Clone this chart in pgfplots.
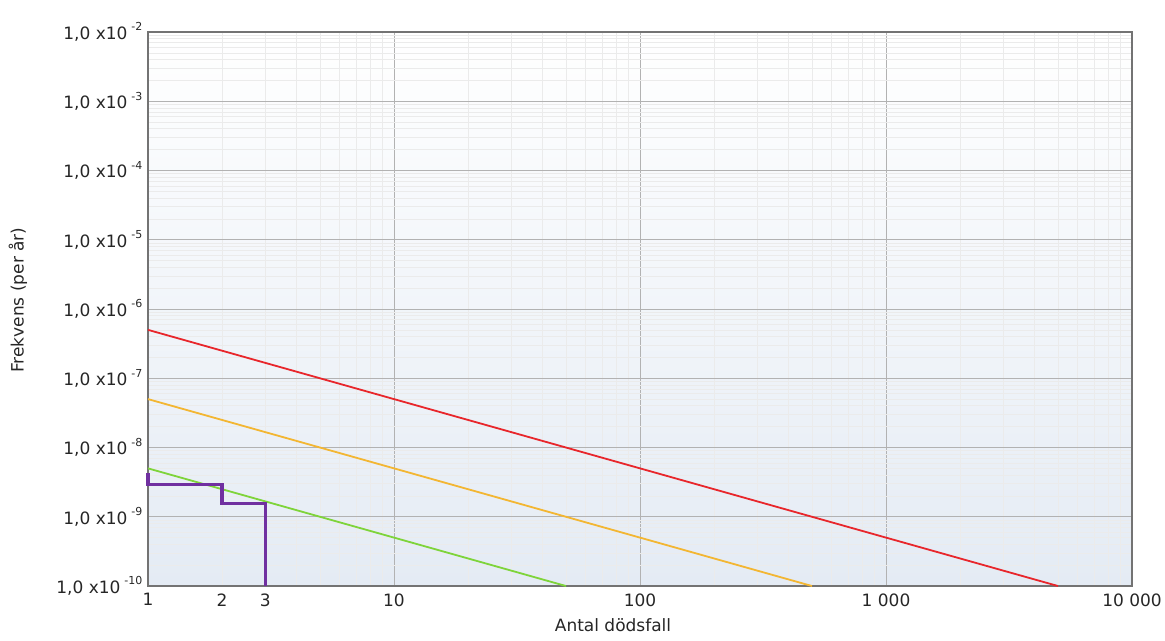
\documentclass[border=0pt]{standalone}
\usepackage{fontspec}
\setmainfont{DejaVu Sans}
\usepackage{pgfplots}
\pgfplotsset{compat=1.18}
\definecolor{cred}{HTML}{E8262B}
\definecolor{corange}{HTML}{F3B632}
\definecolor{cgreen}{HTML}{7ED43A}
\definecolor{cpurple}{HTML}{7030A0}
\definecolor{cbgb}{HTML}{E4EBF4}
\definecolor{cbgm}{HTML}{EFF4F9}
\newcommand{\yl}[1]{1,0 x10\hspace{4pt}\raisebox{8.5pt}{\fontsize{11}{11}\selectfont #1}}
\begin{document}
\begin{tikzpicture}
\begin{axis}[
  name=ax, scale only axis, width=984pt, height=554pt,
  xmode=log, ymode=log,
  xmin=1, xmax=10000, ymin=1e-10, ymax=1e-2,
  clip=false,
  xtick={1,10,100,1000,10000},
  xticklabels={1,10,100,1 000,10 000},
  extra x ticks={2,3},
  extra x tick labels={2,3},
  extra x tick style={grid=none},
  minor xtick={2,3,4,5,6,7,8,9,20,30,40,50,60,70,80,90,200,300,400,500,600,700,800,900,2000,3000,4000,5000,6000,7000,8000,9000},
  ytick={1e-10,1e-9,1e-8,1e-7,1e-6,1e-5,1e-4,1e-3,1e-2},
  yticklabels={\yl{-10},\yl{-9},\yl{-8},\yl{-7},\yl{-6},\yl{-5},\yl{-4},\yl{-3},\yl{-2}},
  minor ytick={2e-10,3e-10,4e-10,5e-10,6e-10,7e-10,8e-10,9e-10,
    2e-9,3e-9,4e-9,5e-9,6e-9,7e-9,8e-9,9e-9,
    2e-8,3e-8,4e-8,5e-8,6e-8,7e-8,8e-8,9e-8,
    2e-7,3e-7,4e-7,5e-7,6e-7,7e-7,8e-7,9e-7,
    2e-6,3e-6,4e-6,5e-6,6e-6,7e-6,8e-6,9e-6,
    2e-5,3e-5,4e-5,5e-5,6e-5,7e-5,8e-5,9e-5,
    2e-4,3e-4,4e-4,5e-4,6e-4,7e-4,8e-4,9e-4,
    2e-3,3e-3,4e-3,5e-3,6e-3,7e-3,8e-3,9e-3},
  grid=both,
  major grid style={draw=black!30, line width=0.9pt},
  minor grid style={draw=black!8, line width=0.7pt},
  major tick length=0pt, minor tick length=0pt,
  axis line style={draw=black!55, line width=1.3pt},
  axis background/.style={shade, top color=white, middle color=cbgm, bottom color=cbgb},
  tick label style={font=\fontsize{17}{17}\selectfont, text=black!85},
  yticklabel style={xshift=-2pt},
  xticklabel style={yshift=-4pt},
  xlabel={Antal dödsfall},
  ylabel={Frekvens (per år)},
  label style={font=\fontsize{17}{17}\selectfont, text=black!85},
  xlabel style={at={(axis description cs:0.4726,0)}, anchor=north, yshift=-29pt},
  ylabel style={at={(axis description cs:0,0.516)}, anchor=center, yshift=130pt},
]
\addplot[cred, line width=1.8pt] coordinates {(1,5e-7) (5000,1e-10)};
\addplot[corange, line width=1.8pt] coordinates {(1,5e-8) (500,1e-10)};
\addplot[cgreen, line width=1.8pt] coordinates {(1,5e-9) (50,1e-10)};
\addplot[cpurple, line width=3.2pt, line join=miter] coordinates {(1,4.3e-9) (1,2.9e-9) (2,2.9e-9) (2,1.55e-9) (3,1.55e-9) (3,1e-10)};
\end{axis}
\pgfresetboundingbox
\path[use as bounding box] ([xshift=-148pt,yshift=-54pt]ax.south west) rectangle ([xshift=33pt,yshift=32pt]ax.north east);
\end{tikzpicture}
\end{document}
